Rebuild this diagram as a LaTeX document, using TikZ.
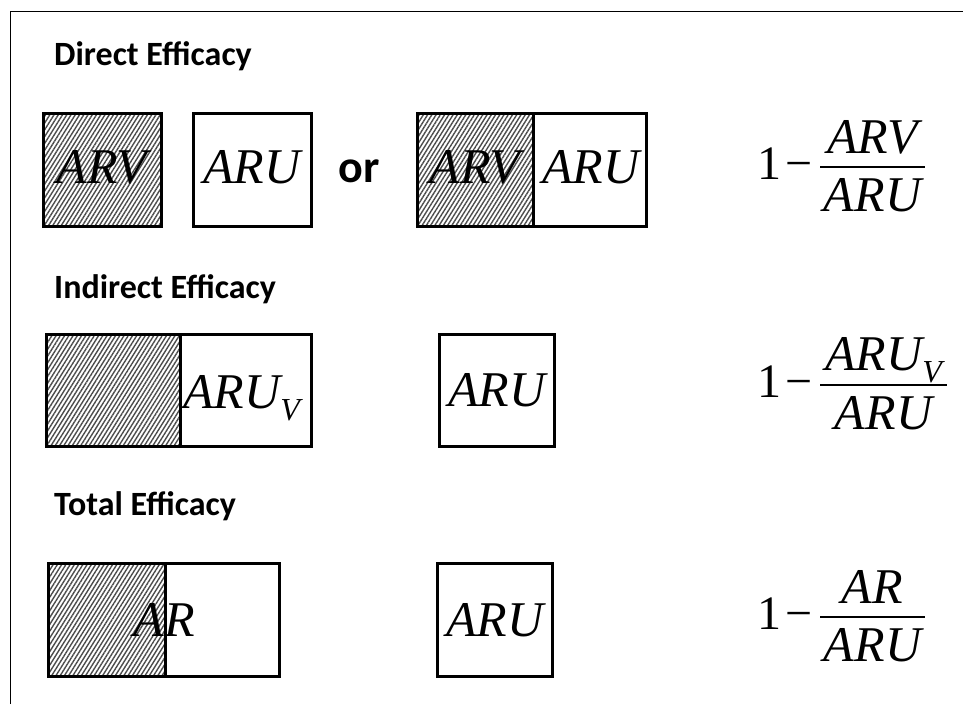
\documentclass[tikz,border=0pt]{standalone}
\usepackage{fontspec}
\setmainfont{Liberation Serif}
\newfontfamily\headfont{Carlito}
\usetikzlibrary{patterns.meta}
\newcommand\subv{\raisebox{-12pt}{\fontsize{32}{32}\selectfont V}}

\tikzset{
  cell/.style 2 args={draw, line width=3pt, inner sep=0pt, minimum width=#1, minimum height=#2},
  hatch/.style={pattern={Lines[angle=58,distance=3.6pt,line width=1.4pt]}, pattern color=black!70},
  lab/.style={font=\fontsize{50}{60}\selectfont\itshape, inner sep=0pt, anchor=base},
  head/.style={font=\headfont\bfseries\fontsize{34}{40}\selectfont, inner sep=0pt, anchor=base west},
  one/.style={lab, anchor=base west, font=\fontsize{48}{56}\selectfont},
  bar/.style={line width=2pt}
}

\begin{document}
\begin{tikzpicture}[x=1pt,y=-1pt]
\useasboundingbox (0,0) rectangle (963,704);
\draw[line width=1pt] (10,704) -- (10,11.5) -- (963,11.5);

\node[head] (hdirect) at (54,65) {Direct Efficacy};
\node[head] (hindirect) at (54,298) {Indirect Efficacy};
\node[head] (htotal) at (54,515) {Total Efficacy};

\node[cell={118pt}{113pt}, hatch] (dv) at (102.5,170) {};
\node[cell={118pt}{113pt}] (du) at (252.5,170) {};
\node[cell={115.5pt}{113pt}, hatch] (dvl) at (475.25,170) {};
\node[cell={113.5pt}{113pt}] (dur) at (589.75,170) {};
\node[lab] (tdv) at (102,183) {ARV};
\node[lab] (tdu) at (252,183) {ARU};
\node[head, anchor=base, font=\headfont\bfseries\fontsize{46}{54}\selectfont] (or) at (359,182) {or};
\node[lab] (tdvl) at (475,183) {ARV};
\node[lab] (tdur) at (591,183) {ARU};

\node[cell={133.5pt}{112pt}, hatch] (iv) at (113.25,390.5) {};
\node[cell={131.5pt}{112pt}] (iuv) at (245.75,390.5) {};
\node[cell={115pt}{112pt}] (iu) at (497,390.5) {};
\node[lab, anchor=base west] (tiuv) at (183,408) {ARU\subv};
\node[lab] (tiu) at (497,406) {ARU};

\node[cell={116.5pt}{113pt}, hatch] (tv) at (106.75,620) {};
\node[cell={114pt}{113pt}] (tr) at (222,620) {};
\node[cell={115pt}{113pt}] (tu) at (495,620) {};
\node[lab] (tar) at (164,636) {AR};
\node[lab] (ttu) at (495,636) {ARU};

\node[one] (one1) at (757,179) {1\kern4pt−};
\draw[bar] (820,167) -- (925,167);
\node[lab] (num1) at (872.5,153) {ARV};
\node[lab] (den1) at (872.5,211) {ARU};

\node[one] (one2) at (757,397) {1\kern4pt−};
\draw[bar] (820,385) -- (947,385);
\node[lab] (num2) at (883.5,370) {ARU\subv};
\node[lab] (den2) at (883.5,429) {ARU};

\node[one] (one3) at (757,629) {1\kern4pt−};
\draw[bar] (820,617) -- (925,617);
\node[lab] (num3) at (872.5,603) {AR};
\node[lab] (den3) at (872.5,661) {ARU};
\end{tikzpicture}
\end{document}
